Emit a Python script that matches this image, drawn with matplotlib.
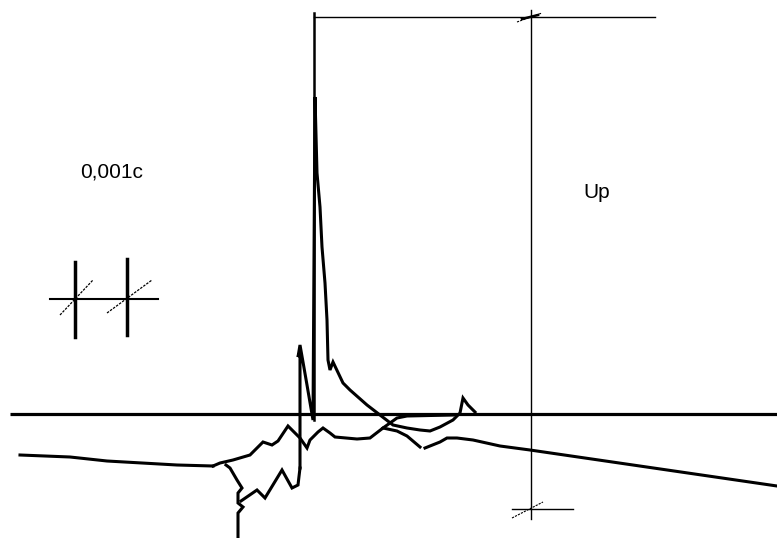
import matplotlib
matplotlib.use("Agg")
import matplotlib.pyplot as plt

# ---- data (screen-like units: x to the right, y downward) ----
# pre-trigger trace (left flat part)
pre_x = [20, 70, 107, 142, 177, 213]
pre_y = [455, 457, 461, 463, 465, 466]

# upper jagged branch continuing into the slow tail
upper_x = [213, 220, 233, 250, 253, 263, 272, 278, 288, 300, 307, 310, 318, 323, 330, 335,
           357, 370, 383, 397, 407, 420]
upper_y = [466, 463, 460, 455, 452, 442, 445, 441, 426, 438, 448, 440, 432, 428, 433, 437,
           439, 438, 428, 431, 436, 447]
tail_x = [425, 440, 447, 457, 473, 500, 530, 777]
tail_y = [448, 442, 438, 438, 440, 446, 450, 486]

# lower jagged branch
lower_x = [226, 230, 237, 242, 238, 238, 243, 238, 238]
lower_y = [465, 468, 480, 488, 493, 503, 507, 513, 538]
lower2_x = [241, 257, 265, 282, 292, 298, 300]
lower2_y = [501, 490, 498, 470, 488, 485, 468]

# impulse trace (spike, peak and decay)
peak_x = [300, 300, 298, 300, 303, 307, 313, 315, 317, 320, 322, 325, 327, 328, 330, 333, 343,
          350, 367, 380, 393, 407, 420, 430, 440, 453, 460, 463, 468, 475]
peak_y = [468, 352, 357, 345, 362, 385, 420, 97, 173, 207, 247, 283, 320, 360, 370, 362, 383,
          390, 405, 415, 425, 428, 430, 431, 427, 420, 413, 398, 405, 412]

# short segment hugging the zero line after the crossing
near_x = [383, 397, 407, 453]
near_y = [428, 418, 416, 415]

fig = plt.figure(figsize=(7.77, 5.38), dpi=100)
ax = fig.add_axes([0, 0, 1, 1])
ax.set_xlim(0, 777)
ax.set_ylim(538, 0)
ax.axis("off")

k = "black"
# zero line
ax.plot([10, 777], [414, 414], color=k, lw=2.3, solid_capstyle="butt")
# reference vertical at the front of the impulse
ax.plot([314, 314], [13, 420], color=k, lw=1.8)
# top level line
ax.plot([314, 655], [17, 17], color=k, lw=1.0)
# dimension line Up
ax.plot([531, 531], [10, 519], color=k, lw=1.0)
ax.plot([512, 573], [509, 509], color=k, lw=1.0)
ax.plot([512, 543], [518, 502], color=k, lw=0.8, ls=(0, (2, 1)))
ax.plot([517, 542], [22, 13], color=k, lw=0.8, ls=(0, (2, 1)))
ax.plot([522, 538], [19, 15], color=k, lw=1.8)

# traces
lw = 2.2
for xs, ys in [(pre_x, pre_y), (upper_x, upper_y), (tail_x, tail_y),
               (lower_x, lower_y), (lower2_x, lower2_y), (peak_x, peak_y), (near_x, near_y)]:
    ax.plot(xs, ys, color=k, lw=lw, solid_joinstyle="miter")

# time scale marker
ax.plot([50, 158], [299, 299], color=k, lw=1.5)
ax.plot([75, 75], [262, 337], color=k, lw=2.5)
ax.plot([127, 127], [259, 335], color=k, lw=2.5)
ax.plot([60, 93], [315, 280], color=k, lw=0.9, ls=(0, (2, 1)))
ax.plot([107, 152], [313, 280], color=k, lw=0.9, ls=(0, (2, 1)))

ax.text(80, 172, "0,001c", fontsize=15, family="Liberation Sans", va="center", ha="left")
ax.text(583, 192, "Up", fontsize=15, family="Liberation Sans", va="center", ha="left")

fig.savefig("out.png", dpi=100)
